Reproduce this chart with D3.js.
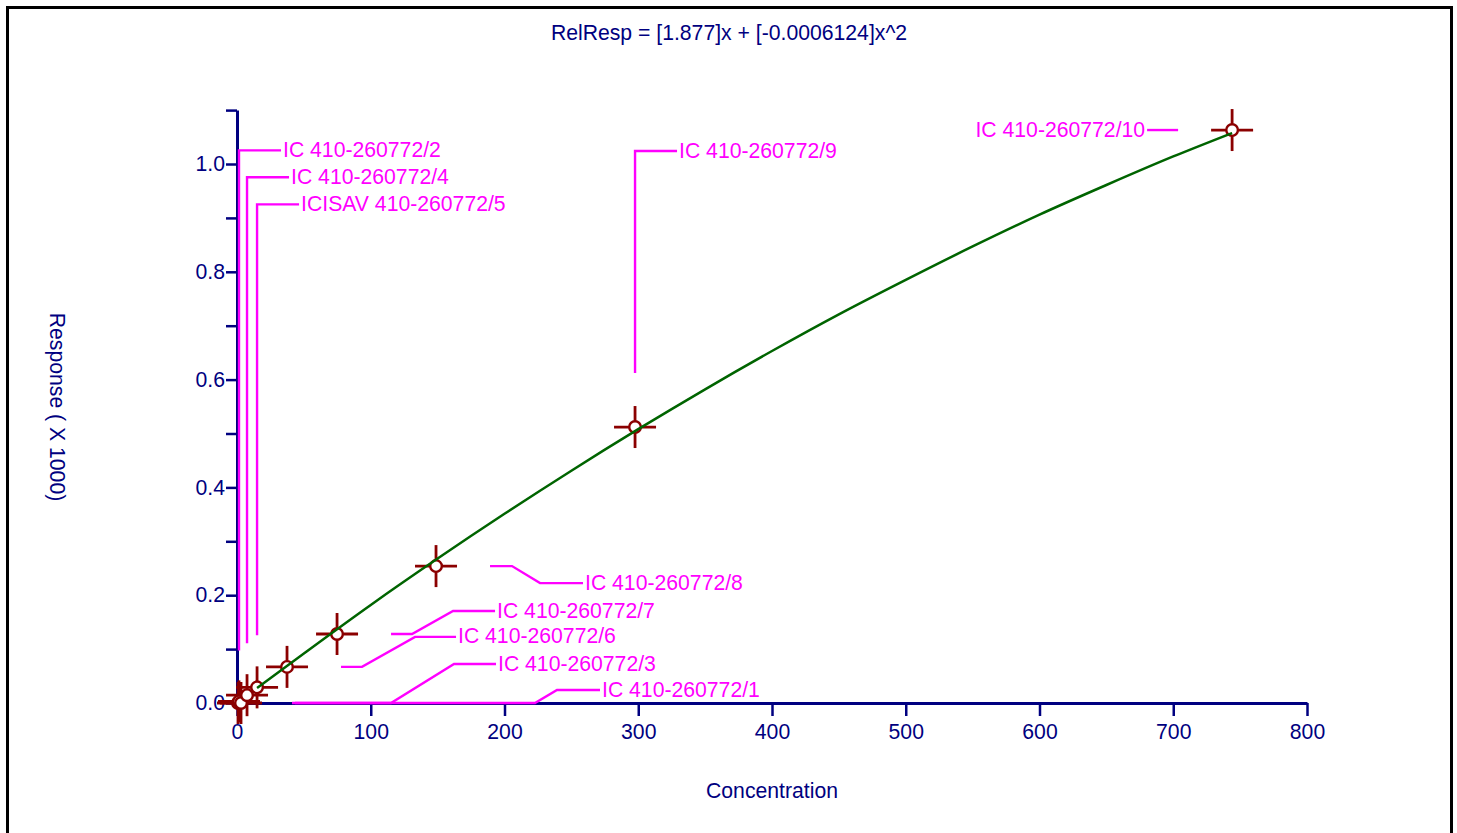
<!DOCTYPE html>
<html>
<head>
<meta charset="utf-8">
<script src="https://cdn.jsdelivr.net/npm/d3@7"></script>
<style>
  html, body { margin: 0; padding: 0; background: #fff; }
  svg { display: block; font-family: "Liberation Sans", Arial, sans-serif; }
</style>
</head>
<body>
<svg id="chart" width="1457" height="833"></svg>
<script>
// ---------------- data ----------------
const titleText = "RelResp = [1.877]x + [-0.0006124]x^2";
const xTitle = "Concentration";
const yTitle = "Response ( X 1000)";

const pointNames = ["IC 410-260772/1", "IC 410-260772/2", "IC 410-260772/3", "IC 410-260772/4",
  "ICISAV 410-260772/5", "IC 410-260772/6", "IC 410-260772/7", "IC 410-260772/8",
  "IC 410-260772/9", "IC 410-260772/10"];
const concentrations = [0.75, 1.5, 3.0, 7.5, 15.0, 37.4, 74.8, 148.8, 297.6, 744.0];
const responses = [0.0, 0.003, 0.0, 0.0145, 0.029, 0.067, 0.128, 0.254, 0.512, 1.063];

// fitted curve
const curveX = [15, 50, 100, 150, 200, 250, 300, 350, 400, 450, 500, 550, 600, 650, 700, 744];
const curveY = [0.028, 0.092, 0.182, 0.268, 0.351, 0.431, 0.508, 0.582, 0.653, 0.721, 0.785, 0.847, 0.906, 0.961, 1.014, 1.0575];

const xTicks = [0, 100, 200, 300, 400, 500, 600, 700, 800];
const yTicks = [0, 0.1, 0.2, 0.3, 0.4, 0.5, 0.6, 0.7, 0.8, 0.9, 1.0, 1.1];
const yTickLabels = ["0.0", "", "0.2", "", "0.4", "", "0.6", "", "0.8", "", "1.0", ""];

// ---------------- layout ----------------
// leader line paths (pixel offsets from the point) and text offsets
const leaderPaths = [
  [[54, 0], [297, 0], [319, -13], [362, -13]],
  [[0, -51], [0, -551], [42, -551]],
  [[54, 0], [150, 0], [213, -39], [255, -39]],
  [[0, -52], [0, -518], [42, -518]],
  [[0, -52], [0, -483], [42, -483]],
  [[54, 0], [75, 0], [128, -30], [169, -30]],
  [[54, 0], [75, 0], [116, -23], [158, -23]],
  [[54, 0], [76, 0], [104, 17], [147, 17]],
  [[0, -54], [0, -276], [42, -276]],
  [[-54, 0], [-85, 0]]
];
const textOffsets = [[364, -13], [44, -551], [257, -39], [44, -518], [44, -483],
  [171, -30], [160, -23], [149, 17], [44, -276], [-87, 0]];
const textAnchors = ["start", "start", "start", "start", "start", "start", "start", "start", "start", "end"];

const navy = "#000080";
const magenta = "#FF00FF";
const darkRed = "#8B0000";
const green = "#006400";
const FS = 21.2;

const svg = d3.select("#chart");

const x = d3.scaleLinear().domain([0, 800]).range([237, 1307]);
const y = d3.scaleLinear().domain([0, 1.1]).range([703, 110.1]);

// border
svg.append("rect")
  .attr("x", 7.5).attr("y", 7.5).attr("width", 1444).attr("height", 900)
  .attr("fill", "none").attr("stroke", "#000").attr("stroke-width", 3);

// title
svg.append("text")
  .attr("x", 729).attr("y", 34).attr("text-anchor", "middle").attr("dominant-baseline", "middle")
  .attr("fill", navy).attr("font-size", FS).text(titleText);

// axes
const xAxis = d3.axisBottom(x).tickValues(xTicks).tickSize(13).tickSizeOuter(0).tickPadding(8)
  .tickFormat(d3.format("d"));
const gx = svg.append("g").attr("transform", "translate(0,703)").call(xAxis);
gx.select(".domain").attr("stroke", navy).attr("stroke-width", 3);
gx.selectAll(".tick line").attr("stroke", navy).attr("stroke-width", 2.5);
gx.selectAll(".tick text").attr("fill", navy).attr("font-size", FS)
  .attr("font-family", "'Liberation Sans', Arial, sans-serif");

const yAxis = d3.axisLeft(y).tickValues(yTicks).tickSize(11).tickSizeOuter(0).tickPadding(1)
  .tickFormat((d, i) => yTickLabels[i]);
const gy = svg.append("g").attr("transform", "translate(237,0)").call(yAxis);
gy.select(".domain").attr("stroke", navy).attr("stroke-width", 3);
gy.selectAll(".tick line").attr("stroke", navy).attr("stroke-width", 2.5);
gy.selectAll(".tick text").attr("fill", navy).attr("font-size", FS)
  .attr("font-family", "'Liberation Sans', Arial, sans-serif");

// axis titles
svg.append("text")
  .attr("x", 772).attr("y", 792).attr("text-anchor", "middle").attr("dominant-baseline", "middle")
  .attr("fill", navy).attr("font-size", FS).text(xTitle);
svg.append("text")
  .attr("transform", "translate(56,407) rotate(90)")
  .attr("text-anchor", "middle").attr("dominant-baseline", "middle")
  .attr("fill", navy).attr("font-size", FS).text(yTitle);

// leader lines and labels
const pts = concentrations.map((c, i) => ({ name: pointNames[i], px: x(c), py: y(responses[i]), i }));
const lineGen = d3.line();
const gl = svg.append("g");
pts.forEach(p => {
  const path = leaderPaths[p.i].map(o => [p.px + o[0], p.py + o[1]]);
  gl.append("path").attr("d", lineGen(path)).attr("fill", "none")
    .attr("stroke", magenta).attr("stroke-width", 2.4);
  gl.append("text")
    .attr("x", p.px + textOffsets[p.i][0]).attr("y", p.py + textOffsets[p.i][1] + 1)
    .attr("text-anchor", textAnchors[p.i]).attr("dominant-baseline", "middle")
    .attr("fill", magenta).attr("font-size", FS).text(p.name);
});

// markers
const gm = svg.append("g");
pts.forEach(p => {
  gm.append("line").attr("x1", p.px - 21).attr("x2", p.px + 21).attr("y1", p.py).attr("y2", p.py)
    .attr("stroke", darkRed).attr("stroke-width", 2.8);
  gm.append("line").attr("x1", p.px).attr("x2", p.px).attr("y1", p.py - 21).attr("y2", p.py + 21)
    .attr("stroke", darkRed).attr("stroke-width", 2.8);
});
pts.forEach(p => {
  gm.append("circle").attr("cx", p.px).attr("cy", p.py).attr("r", 5.8)
    .attr("fill", "#fff").attr("stroke", darkRed).attr("stroke-width", 2.4);
});

// fitted curve
const curveData = curveX.map((c, i) => [x(c), y(curveY[i])]);
svg.append("path").attr("d", d3.line().curve(d3.curveMonotoneX)(curveData))
  .attr("fill", "none").attr("stroke", green).attr("stroke-width", 2.5);
</script>
</body>
</html>
